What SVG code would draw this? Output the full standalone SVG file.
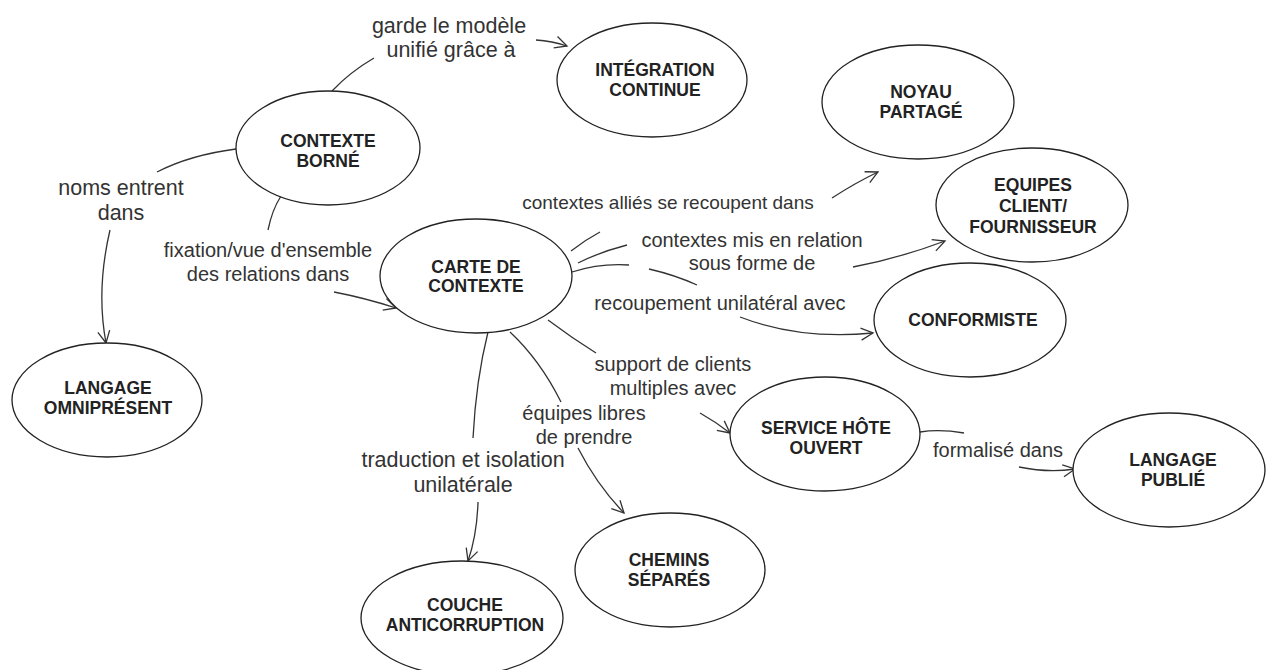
<svg xmlns="http://www.w3.org/2000/svg" width="1268" height="670" viewBox="0 0 1268 670">
<defs>
<style>
.n ellipse{fill:#fff;stroke:#222;stroke-width:1.3}
.n text{font-family:"Liberation Sans",Arial,sans-serif;font-weight:bold;font-size:17.5px;fill:#222;text-anchor:middle}
.lbl{font-family:"Liberation Sans",Arial,sans-serif;font-size:20px;fill:#333;text-anchor:middle}
.big{font-size:21.5px}
.sm{font-size:19px}
.c path{fill:none;stroke:#333;stroke-width:1.3}
</style>
<marker id="arr" viewBox="-14 -8 16 16" refX="0" refY="0" markerWidth="16" markerHeight="16" markerUnits="userSpaceOnUse" orient="auto">
<path d="M-12,-6 L0,0 L-12,6" fill="none" stroke="#333" stroke-width="1.3"/>
</marker>
</defs>
<rect width="1268" height="670" fill="#fff"/>
<g class="c" id="connectors">
<path d="M332,91 Q350,72 374,58"/>
<path d="M536,40 Q552,41 567,46" marker-end="url(#arr)"/>
<path d="M236,149 Q190,155 157,172"/>
<path d="M110,230 Q96,290 106,343" marker-end="url(#arr)"/>
<path d="M281,196 Q272,210 268,230"/>
<path d="M334,292 Q365,298 396,308" marker-end="url(#arr)"/>
<path d="M571,251 Q585,240 600,232"/>
<path d="M832,198 Q855,183 878,172" marker-end="url(#arr)"/>
<path d="M578,263 Q600,252 627,245"/>
<path d="M853,267 Q900,258 945,241" marker-end="url(#arr)"/>
<path d="M572,272 Q600,263 629,265"/>
<path d="M649,269 Q675,275 697,285"/>
<path d="M740,317 Q800,340 873,333" marker-end="url(#arr)"/>
<path d="M548,320 Q572,338 596,353"/>
<path d="M700,413 Q716,422 730,433" marker-end="url(#arr)"/>
<path d="M510,332 Q540,360 561,402"/>
<path d="M578,448 Q597,485 624,513" marker-end="url(#arr)"/>
<path d="M488,332 Q476,380 473,438"/>
<path d="M478,502 Q477,535 468,561" marker-end="url(#arr)"/>
<path d="M920,432 Q940,429 964,433"/>
<path d="M1019,467 Q1048,473 1075,469" marker-end="url(#arr)"/>
</g>
<g id="labels">
<text class="lbl big" x="449" y="33">garde le modèle</text>
<text class="lbl big" x="451" y="57">unifié grâce à</text>
<text class="lbl big" x="121" y="195">noms entrent</text>
<text class="lbl big" x="121" y="220">dans</text>
<text class="lbl" x="268" y="257">fixation/vue d'ensemble</text>
<text class="lbl" x="268" y="281">des relations dans</text>
<text class="lbl sm" x="668" y="209">contextes alliés se recoupent dans</text>
<text class="lbl" x="752" y="247">contextes mis en relation</text>
<text class="lbl" x="752" y="270">sous forme de</text>
<text class="lbl" x="720" y="310">recoupement unilatéral avec</text>
<text class="lbl" x="673" y="371">support de clients</text>
<text class="lbl" x="673" y="395">multiples avec</text>
<text class="lbl" x="584" y="420">équipes libres</text>
<text class="lbl" x="584" y="444">de prendre</text>
<text class="lbl big" x="463" y="467">traduction et isolation</text>
<text class="lbl big" x="463" y="492">unilatérale</text>
<text class="lbl" x="998" y="457">formalisé dans</text>
</g>
<g class="n" id="contexte-borne"><ellipse cx="328" cy="148" rx="92" ry="57"/><text x="328" y="146.5">CONTEXTE</text><text x="328" y="166.5">BORNÉ</text></g>
<g class="n" id="integration-continue"><ellipse cx="652" cy="80" rx="95" ry="57"/><text x="655" y="76">INTÉGRATION</text><text x="655" y="96">CONTINUE</text></g>
<g class="n" id="noyau-partage"><ellipse cx="918" cy="102" rx="96" ry="57"/><text x="921" y="98">NOYAU</text><text x="921" y="118">PARTAGÉ</text></g>
<g class="n" id="equipes"><ellipse cx="1032" cy="205" rx="96" ry="57"/><text x="1033" y="191">EQUIPES</text><text x="1033" y="212">CLIENT/</text><text x="1033" y="233">FOURNISSEUR</text></g>
<g class="n" id="conformiste"><ellipse cx="970" cy="320" rx="96" ry="57"/><text x="973" y="326">CONFORMISTE</text></g>
<g class="n" id="carte-contexte"><ellipse cx="476" cy="276" rx="96" ry="57"/><text x="476" y="273">CARTE DE</text><text x="476" y="292">CONTEXTE</text></g>
<g class="n" id="langage-omnipresent"><ellipse cx="107" cy="400" rx="95" ry="57"/><text x="108" y="394">LANGAGE</text><text x="108" y="414">OMNIPRÉSENT</text></g>
<g class="n" id="service-hote"><ellipse cx="825" cy="434" rx="95" ry="57"/><text x="826" y="434">SERVICE HÔTE</text><text x="826" y="454">OUVERT</text></g>
<g class="n" id="langage-publie"><ellipse cx="1169" cy="470" rx="96" ry="57"/><text x="1173" y="466">LANGAGE</text><text x="1173" y="486">PUBLIÉ</text></g>
<g class="n" id="chemins-separes"><ellipse cx="670" cy="570" rx="95" ry="57"/><text x="669" y="566">CHEMINS</text><text x="669" y="586">SÉPARÉS</text></g>
<g class="n" id="couche-anticorruption"><ellipse cx="462" cy="618" rx="101" ry="57"/><text x="465" y="611">COUCHE</text><text x="465" y="631">ANTICORRUPTION</text></g>
</svg>
